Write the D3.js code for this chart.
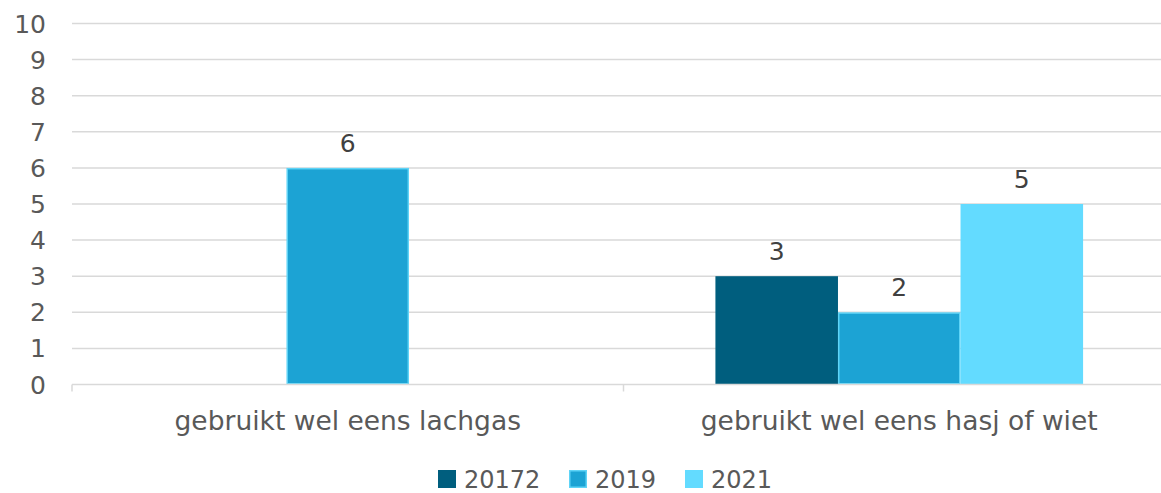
<!DOCTYPE html>
<html>
<head>
<meta charset="utf-8">
<script src="https://cdn.jsdelivr.net/npm/d3@7"></script>
<style>
  body { margin: 0; background: #fff; }
  svg text { font-family: "DejaVu Sans", Verdana, sans-serif; }
</style>
</head>
<body>
<svg id="chart" width="1161" height="493"></svg>
<script>
// data
var categorieen = ["gebruikt wel eens lachgas", "gebruikt wel eens hasj of wiet"];
var reeksen = ["20172", "2019", "2021"];
var waarden20172 = [null, 3];
var waarden2019 = [6, 2];
var waarden2021 = [null, 5];
var yTicks = [0, 1, 2, 3, 4, 5, 6, 7, 8, 9, 10];

var kleuren = { "20172": "#005e7e", "2019": "#1ca3d4", "2021": "#63dbff" };
var randKleur = { "20172": "none", "2019": "#5fd4f7", "2021": "none" };

var alleWaarden = { "20172": waarden20172, "2019": waarden2019, "2021": waarden2021 };

var svg = d3.select("#chart");
var links = 72, rechts = 1175, boven = 23.5, onder = 384.5;

var x0 = d3.scaleBand().domain(categorieen).range([links, rechts]).padding(0);
var x1 = d3.scaleBand().domain(reeksen).range([0, x0.bandwidth()]).paddingInner(0).paddingOuter(0.75);
var y = d3.scaleLinear().domain([0, 10]).range([onder, boven]);

// gridlines
svg.append("g").selectAll("line")
  .data(yTicks.filter(function(d){ return d > 0; }))
  .join("line")
  .attr("x1", links).attr("x2", 1161)
  .attr("y1", function(d){ return y(d); }).attr("y2", function(d){ return y(d); })
  .attr("stroke", "#d9d9d9").attr("stroke-width", 1.5);

// y labels
svg.append("g").selectAll("text")
  .data(yTicks)
  .join("text")
  .attr("x", 46)
  .attr("y", function(d){ return y(d) + 9; })
  .attr("text-anchor", "end")
  .attr("font-size", 25)
  .attr("fill", "#595959")
  .text(function(d){ return d; });

// bars
var groepen = svg.append("g").selectAll("g")
  .data(categorieen)
  .join("g")
  .attr("transform", function(d){ return "translate(" + x0(d) + ",0)"; });

groepen.each(function(cat, ci) {
  var g = d3.select(this);
  reeksen.forEach(function(r) {
    var v = alleWaarden[r][ci];
    if (v == null) return;
    var rand = randKleur[r] != "none" ? 0.75 : 0;
    g.append("rect")
      .attr("x", x1(r) + rand)
      .attr("y", y(v) + rand)
      .attr("width", x1.bandwidth() - 2 * rand)
      .attr("height", onder - y(v) - 2 * rand)
      .attr("fill", kleuren[r])
      .attr("stroke", randKleur[r])
      .attr("stroke-width", 1.5);
    g.append("text")
      .attr("x", x1(r) + x1.bandwidth() / 2)
      .attr("y", y(v) - 16)
      .attr("text-anchor", "middle")
      .attr("font-size", 25)
      .attr("fill", "#404040")
      .text(v);
  });
});

// x axis line + ticks
svg.append("line")
  .attr("x1", links).attr("x2", 1161)
  .attr("y1", onder).attr("y2", onder)
  .attr("stroke", "#d9d9d9").attr("stroke-width", 1.5);
svg.append("g").selectAll("line")
  .data([links, x0(categorieen[1]), rechts])
  .join("line")
  .attr("x1", function(d){ return d; }).attr("x2", function(d){ return d; })
  .attr("y1", onder).attr("y2", onder + 7)
  .attr("stroke", "#d9d9d9").attr("stroke-width", 1.5);

// category labels
svg.append("g").selectAll("text")
  .data(categorieen)
  .join("text")
  .attr("x", function(d){ return x0(d) + x0.bandwidth() / 2; })
  .attr("y", 430)
  .attr("text-anchor", "middle")
  .attr("font-size", 26.5)
  .attr("fill", "#595959")
  .text(function(d){ return d; });

// legend
var legendaX = [438, 569, 685];
var legenda = svg.append("g").selectAll("g")
  .data(reeksen)
  .join("g")
  .attr("transform", function(d, i){ return "translate(" + legendaX[i] + ",470)"; });
legenda.append("rect")
  .attr("x", function(d){ return randKleur[d] != "none" ? 0.75 : 0; })
  .attr("y", function(d){ return randKleur[d] != "none" ? 0.75 : 0; })
  .attr("width", function(d){ return randKleur[d] != "none" ? 16.5 : 18; })
  .attr("height", function(d){ return randKleur[d] != "none" ? 16.5 : 18; })
  .attr("fill", function(d){ return kleuren[d]; })
  .attr("stroke", function(d){ return randKleur[d]; })
  .attr("stroke-width", 1.5);
legenda.append("text")
  .attr("x", 26)
  .attr("y", 17.5)
  .attr("font-size", 24)
  .attr("fill", "#595959")
  .text(function(d){ return d; });
</script>
</body>
</html>
